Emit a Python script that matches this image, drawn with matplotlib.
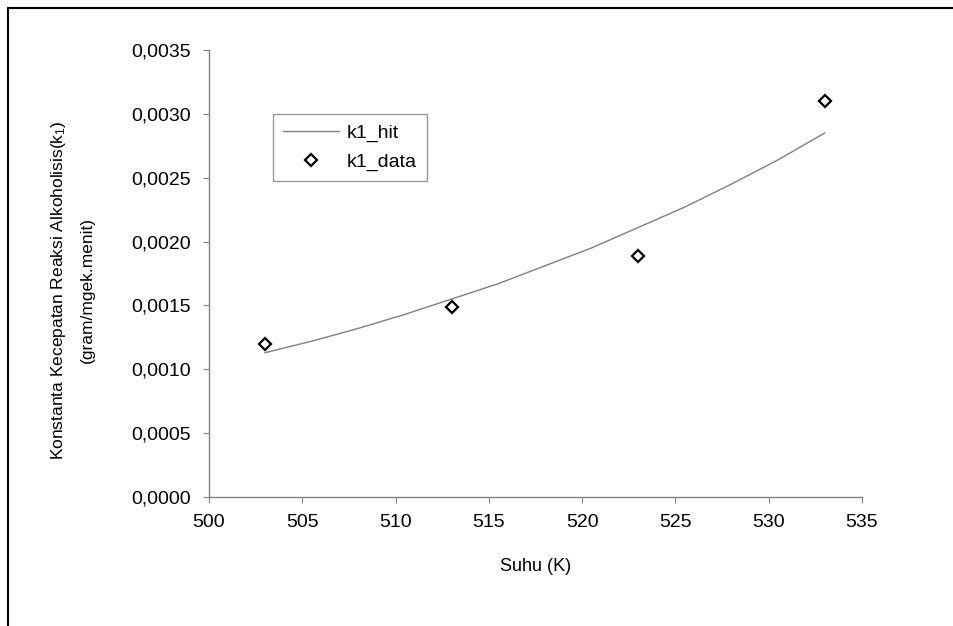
import matplotlib.pyplot as plt
from matplotlib.patches import Rectangle
from matplotlib.ticker import FuncFormatter

plt.rcParams['font.family'] = ['Liberation Sans', 'DejaVu Sans']
plt.rcParams['mathtext.fontset'] = 'custom'
plt.rcParams['mathtext.rm'] = 'Liberation Sans'
plt.rcParams['mathtext.it'] = 'Liberation Sans'

# data
suhu_data = [503, 513, 523, 533]
k1_data = [0.00120, 0.00149, 0.00189, 0.00310]

suhu_hit = [503, 505.5, 508, 510.5, 513, 515.5, 518, 520.5, 523, 525.5, 528, 530.5, 533]
k1_hit = [0.00113, 0.00122, 0.00132, 0.00143, 0.00155, 0.00167, 0.00181,
          0.00195, 0.00211, 0.00227, 0.00245, 0.00264, 0.00285]

fig = plt.figure(figsize=(9.54, 6.26), dpi=100)
ax = fig.add_axes([209/954, 1 - 497/626, (862 - 209)/954, (497 - 50)/626])

ax.plot(suhu_hit, k1_hit, color='#808080', lw=1.0, label='k1_hit')
ax.plot(suhu_data, k1_data, linestyle='none', marker='D', markersize=6,
        markerfacecolor='white', markeredgecolor='black', markeredgewidth=1.6,
        label='k1_data')

ax.set_xlim(500, 535)
ax.set_ylim(0, 0.0035)
ax.set_xticks(range(500, 536, 5))
ax.set_yticks([i * 0.0005 for i in range(8)])
ax.yaxis.set_major_formatter(FuncFormatter(lambda v, p: f"{v:.4f}".replace('.', ',')))

for s in ['top', 'right']:
    ax.spines[s].set_visible(False)
for s in ['left', 'bottom']:
    ax.spines[s].set_color('#808080')
    ax.spines[s].set_linewidth(1.0)
ax.tick_params(direction='out', length=4, color='#808080', labelsize=14)
ax.tick_params(axis='y', pad=9)
ax.tick_params(axis='x', pad=8)

ax.set_xlabel('Suhu (K)', fontsize=13, labelpad=20)
ax.set_ylabel('Konstanta Kecepatan Reaksi Alkoholisis(k$_1$)\n(gram/mgek.menit)',
              fontsize=12.5, linespacing=2.0)
ax.yaxis.set_label_coords((95 - 209)/653, 0.463)

leg = ax.legend(loc='upper left', bbox_to_anchor=((273 - 209)/653, (497 - 114)/447),
                fontsize=14, frameon=True, fancybox=False, borderpad=0.5,
                borderaxespad=0, handlelength=2.9, handletextpad=0.4,
                labelspacing=0.6)
leg.get_frame().set_edgecolor('#808080')
leg.get_frame().set_linewidth(1.0)

fig.patches.append(Rectangle((8/954, -0.1), 1.2, 1.1 - 8/626,
                             transform=fig.transFigure, fill=False,
                             edgecolor='black', lw=1.5, clip_on=False))

fig.savefig('out.png', dpi=100)
